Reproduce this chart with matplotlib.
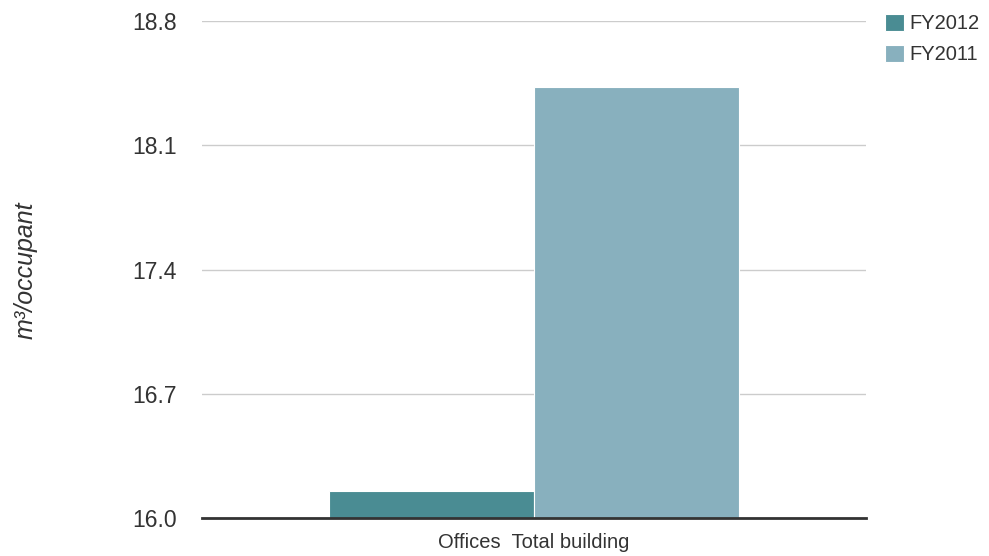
import matplotlib
matplotlib.use('Agg')
import matplotlib.pyplot as plt

# usage per occupant, single category group
categories = ['Offices  Total building']
series = ['FY2012', 'FY2011']
values = {'FY2012': [16.15], 'FY2011': [18.43]}
colors = {'FY2012': '#4a8c93', 'FY2011': '#88b0be'}
yticks = [16.0, 16.7, 17.4, 18.1, 18.8]

plt.rcParams['font.family'] = ['Liberation Sans', 'DejaVu Sans']
text_color = '#333333'

fig = plt.figure(figsize=(9.89, 5.56), dpi=100)
ax = fig.add_axes([202 / 989, 1 - 518 / 556, 664 / 989, 497 / 556])

width = 0.618
for i, name in enumerate(series):
    offset = (i - 0.5) * width
    x = [j + offset for j in range(len(categories))]
    ax.bar(x, [v - yticks[0] for v in values[name]], width, bottom=yticks[0],
           color=colors[name], edgecolor='white', linewidth=0.8, label=name, zorder=3)

ax.set_xlim(-1, 1)
ax.set_ylim(yticks[0], yticks[-1])
ax.set_yticks(yticks)
ax.set_yticklabels([f'{t:.1f}' for t in yticks], fontsize=16.5, color=text_color)
ax.set_xticks(range(len(categories)))
ax.set_xticklabels(categories, fontsize=14.5, color=text_color)
ax.tick_params(axis='y', length=0, pad=18)
ax.tick_params(axis='x', length=0, pad=11)

ax.grid(axis='y', color='#cccccc', linewidth=1, zorder=0)
for s in ['left', 'right', 'top']:
    ax.spines[s].set_visible(False)
ax.spines['bottom'].set_color('#333333')
ax.spines['bottom'].set_linewidth(2)
ax.spines['bottom'].set_zorder(4)

fig.text(26 / 989, 1 - 270 / 556, 'm³/occupant', rotation=90, fontsize=18,
         style='italic', color=text_color, ha='center', va='center')

leg = ax.legend(loc='upper left', bbox_to_anchor=(885 / 989, 1 - 14 / 556),
                bbox_transform=fig.transFigure, frameon=False, fontsize=14.5,
                handlelength=0.93, handleheight=0.93, handletextpad=0.3,
                labelspacing=0.55, borderaxespad=0, borderpad=0)
for t in leg.get_texts():
    t.set_color(text_color)

fig.savefig('out.png', dpi=100)
